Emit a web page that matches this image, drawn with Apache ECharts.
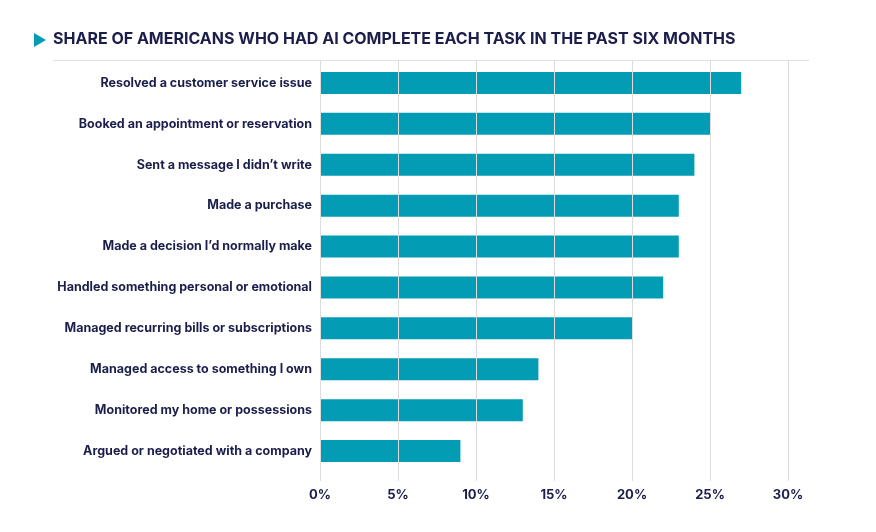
<!DOCTYPE html>
<html>
<head>
<meta charset="utf-8">
<script src="https://cdn.jsdelivr.net/npm/echarts@6/dist/echarts.min.js"></script>
<style>
  html, body { margin: 0; padding: 0; background: #fff; }
  #chart { width: 876px; height: 532px; }
</style>
</head>
<body>
<div id="chart"></div>
<script>
const titleText = 'SHARE OF AMERICANS WHO HAD AI COMPLETE EACH TASK IN THE PAST SIX MONTHS';

// top to bottom as drawn
const tasks = [
  'Resolved a customer service issue',
  'Booked an appointment or reservation',
  'Sent a message I didn\u2019t write',
  'Made a purchase',
  'Made a decision I\u2019d normally make',
  'Handled something personal or emotional',
  'Managed recurring bills or subscriptions',
  'Managed access to something I own',
  'Monitored my home or possessions',
  'Argued or negotiated with a company',
];
const shares = [27, 25, 24, 23, 23, 22, 20, 14, 13, 9];

const axisMin = 0;
const axisMax = 30;
const axisStep = 5;

const navy = '#1b1e4b';
const teal = '#029db5';
const font = 'Inter, "Noto Sans", sans-serif';

const chart = echarts.init(document.getElementById('chart'), null, { renderer: 'canvas' });

chart.setOption({
  animation: false,
  textStyle: { fontFamily: font },
  graphic: [
    {
      type: 'polygon',
      shape: { points: [[34, 33], [46, 40], [34, 47]] },
      style: { fill: teal },
    },
    {
      type: 'text',
      left: 53,
      top: 31,
      style: { text: titleText, fill: navy, font: `bold 16px ${font}` },
    },
    {
      type: 'line',
      shape: { x1: 53, y1: 60.5, x2: 809, y2: 60.5 },
      style: { stroke: '#dedede', lineWidth: 1 },
    },
  ],
  grid: [
    // frame for gridlines and ticks
    { left: 320, right: 88, top: 60, height: 421, containLabel: false },
    // bars
    { left: 320, right: 88, top: 62.5, height: 409, containLabel: false },
  ],
  xAxis: [
    {
      gridIndex: 0,
      type: 'value',
      min: axisMin,
      max: axisMax,
      interval: axisStep,
      z: 5,
      axisLine: { show: false },
      axisTick: { show: false },
      splitLine: { lineStyle: { color: '#dcdcdc', width: 1 } },
      axisLabel: {
        color: navy,
        fontWeight: 'bold',
        fontSize: 13,
        margin: 8,
        formatter: (v) => v + '%',
      },
    },
    {
      gridIndex: 1,
      type: 'value',
      min: axisMin,
      max: axisMax,
      show: false,
    },
  ],
  yAxis: [
    {
      gridIndex: 0,
      type: 'category',
      data: [''],
      show: false,
    },
    {
      gridIndex: 1,
      type: 'category',
      inverse: true,
      data: tasks,
      axisLine: { show: false },
      axisTick: { show: false },
      axisLabel: {
        color: navy,
        fontWeight: 'bold',
        fontSize: 12.5,
        margin: 8,
      },
    },
  ],
  series: [{
    type: 'bar',
    xAxisIndex: 1,
    yAxisIndex: 1,
    data: shares,
    barWidth: 22,
    itemStyle: { color: teal },
  }],
});
</script>
</body>
</html>
